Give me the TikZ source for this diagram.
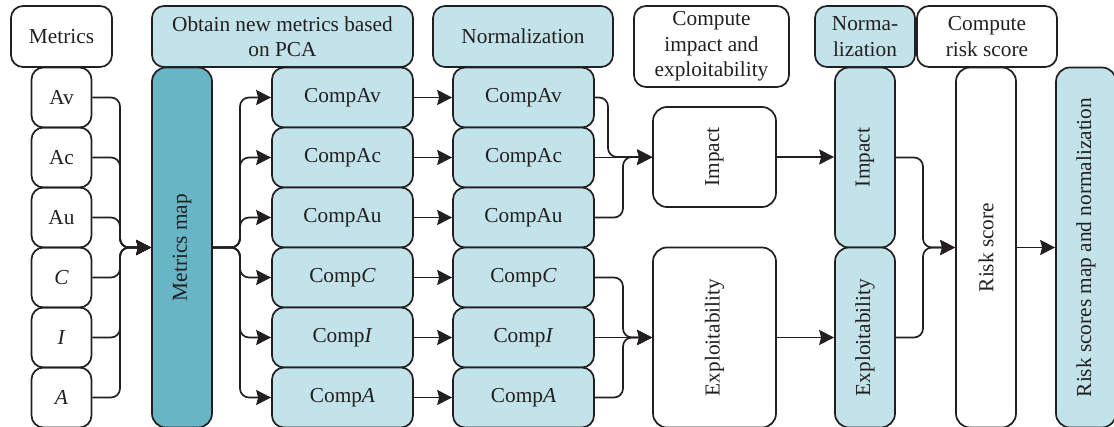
\documentclass[tikz,border=0pt]{standalone}
\usepackage{fontspec}
\setmainfont{Liberation Serif}
\usetikzlibrary{arrows.meta}
\definecolor{ink}{HTML}{231F20}
\definecolor{pale}{HTML}{C2E3EA}
\definecolor{mapblue}{HTML}{68B5C5}
\tikzset{
  box/.style={draw=ink, line width=1.7pt, rounded corners=12pt, inner sep=0pt,
    text=ink, align=center, font=\fontsize{21.3}{25.5}\selectfont},
  hd/.style={box, minimum height=61pt},
  cell/.style={box, minimum width=60pt, minimum height=60pt},
  comp/.style={box, fill=pale, minimum width=141pt, minimum height=60pt},
  tall/.style={box, rounded corners=14pt},
  conn/.style={draw=ink, line width=1.7pt, rounded corners=9pt,
    -{Stealth[length=15pt, width=15pt, inset=2pt]}},
}
\begin{document}
\begin{tikzpicture}[x=1pt, y=-1pt]
\clip (0,0) rectangle (1114,427);

% column headers
\node[hd, minimum width=101pt] (hMetrics) at (61.5,36.5) {Metrics};
\node[hd, fill=pale, minimum width=261pt] (hPCA) at (282.5,36.5) {Obtain new metrics based\\on PCA};
\node[hd, fill=pale, minimum width=180pt] (hNorm) at (523,36.5) {Normalization};
\node[box, minimum width=155pt, minimum height=81pt] (hCompute) at (711.5,46.5) {Compute\\impact and\\exploitability};
\node[hd, fill=pale, minimum width=100pt] (hNormB) at (865,36.5) {Norma-\\lization};
\node[hd, minimum width=140pt] (hRisk) at (987,36.5) {Compute\\risk score};

% input metrics
\node[cell] (mAv) at (61.5,97.5) {Av};
\node[cell] (mAc) at (61.5,157.5) {Ac};
\node[cell] (mAu) at (61.5,217.5) {Au};
\node[cell] (mC) at (61.5,277.5) {\textit{C}};
\node[cell] (mI) at (61.5,337.5) {\textit{I}};
\node[cell] (mA) at (61.5,397.5) {\textit{A}};

% metrics map
\node[tall, fill=mapblue, minimum width=60pt, minimum height=360pt] (map) at (182,247.5) {\rotatebox{90}{Metrics map}};

% PCA components
\node[comp] (pAv) at (342.5,97.5) {CompAv};
\node[comp] (pAc) at (342.5,157.5) {CompAc};
\node[comp] (pAu) at (342.5,217.5) {CompAu};
\node[comp] (pC) at (342.5,277.5) {Comp\textit{C}};
\node[comp] (pI) at (342.5,337.5) {Comp\textit{I}};
\node[comp] (pA) at (342.5,397.5) {Comp\textit{A}};

% normalized components
\node[comp] (nAv) at (523.5,97.5) {CompAv};
\node[comp] (nAc) at (523.5,157.5) {CompAc};
\node[comp] (nAu) at (523.5,217.5) {CompAu};
\node[comp] (nC) at (523.5,277.5) {Comp\textit{C}};
\node[comp] (nI) at (523.5,337.5) {Comp\textit{I}};
\node[comp] (nA) at (523.5,397.5) {Comp\textit{A}};

% impact and exploitability
\node[tall, minimum width=123pt, minimum height=100pt] (imp) at (714.5,157) {\rotatebox{90}{Impact}};
\node[tall, minimum width=123pt, minimum height=180pt] (exp) at (714.5,337.5) {\rotatebox{90}{Exploitability}};
\node[tall, fill=pale, minimum width=60pt, minimum height=180pt] (impN) at (865,157.5) {\rotatebox{90}{Impact}};
\node[tall, fill=pale, minimum width=60pt, minimum height=180pt] (expN) at (865,337.5) {\rotatebox{90}{Exploitability}};

% risk score and final map
\node[tall, minimum width=60pt, minimum height=360pt] (risk) at (986,247.5) {\rotatebox{90}{Risk score}};
\node[tall, fill=pale, minimum width=60pt, minimum height=360pt] (final) at (1086,247.5) {\rotatebox{90}{Risk scores map and normalization}};

% junction points
\coordinate (jIn) at (120,247.5);
\coordinate (jOut) at (240,247.5);
\coordinate (jImpA) at (608,157);
\coordinate (jImpB) at (623,157);
\coordinate (jExp) at (623,337.5);
\coordinate (jRisk) at (923,247.5);

% metrics into the map
\foreach \m in {mAv,mAc,mAu,mC,mI,mA}
  \draw[conn] (\m.east) -| (jIn) -- (map.west);

% map fans out to the components
\foreach \p in {pAv,pAc,pAu,pC,pI,pA}
  \draw[conn] (map.east) -- (jOut) |- (\p.west);

% normalization
\draw[conn] (pAv) -- (nAv);
\draw[conn] (pAc) -- (nAc);
\draw[conn] (pAu) -- (nAu);
\draw[conn] (pC) -- (nC);
\draw[conn] (pI) -- (nI);
\draw[conn] (pA) -- (nA);

% impact from availability, access and authentication components
\draw[conn] (nAv.east) -| (jImpA) -- (imp.west);
\draw[conn] (nAc.east) -- (nAc.east -| imp.west);
\draw[conn] (nAu.east) -| (jImpB) -- (imp.west);

% exploitability from C, I, A components
\draw[conn] (nC.east) -| (jExp) -- (exp.west);
\draw[conn] (nI.east) -- (exp.west);
\draw[conn] (nA.east) -| (jExp) -- (exp.west);

% normalize both scores
\draw[conn] (imp.east) -- (imp.east -| impN.west);
\draw[conn] (exp.east) -- (exp.east -| expN.west);

% combine into the risk score
\draw[conn] (impN.east) -| (jRisk) -- (risk.west);
\draw[conn] (expN.east) -| (jRisk) -- (risk.west);

\draw[conn] (risk) -- (final);
\end{tikzpicture}
\end{document}
